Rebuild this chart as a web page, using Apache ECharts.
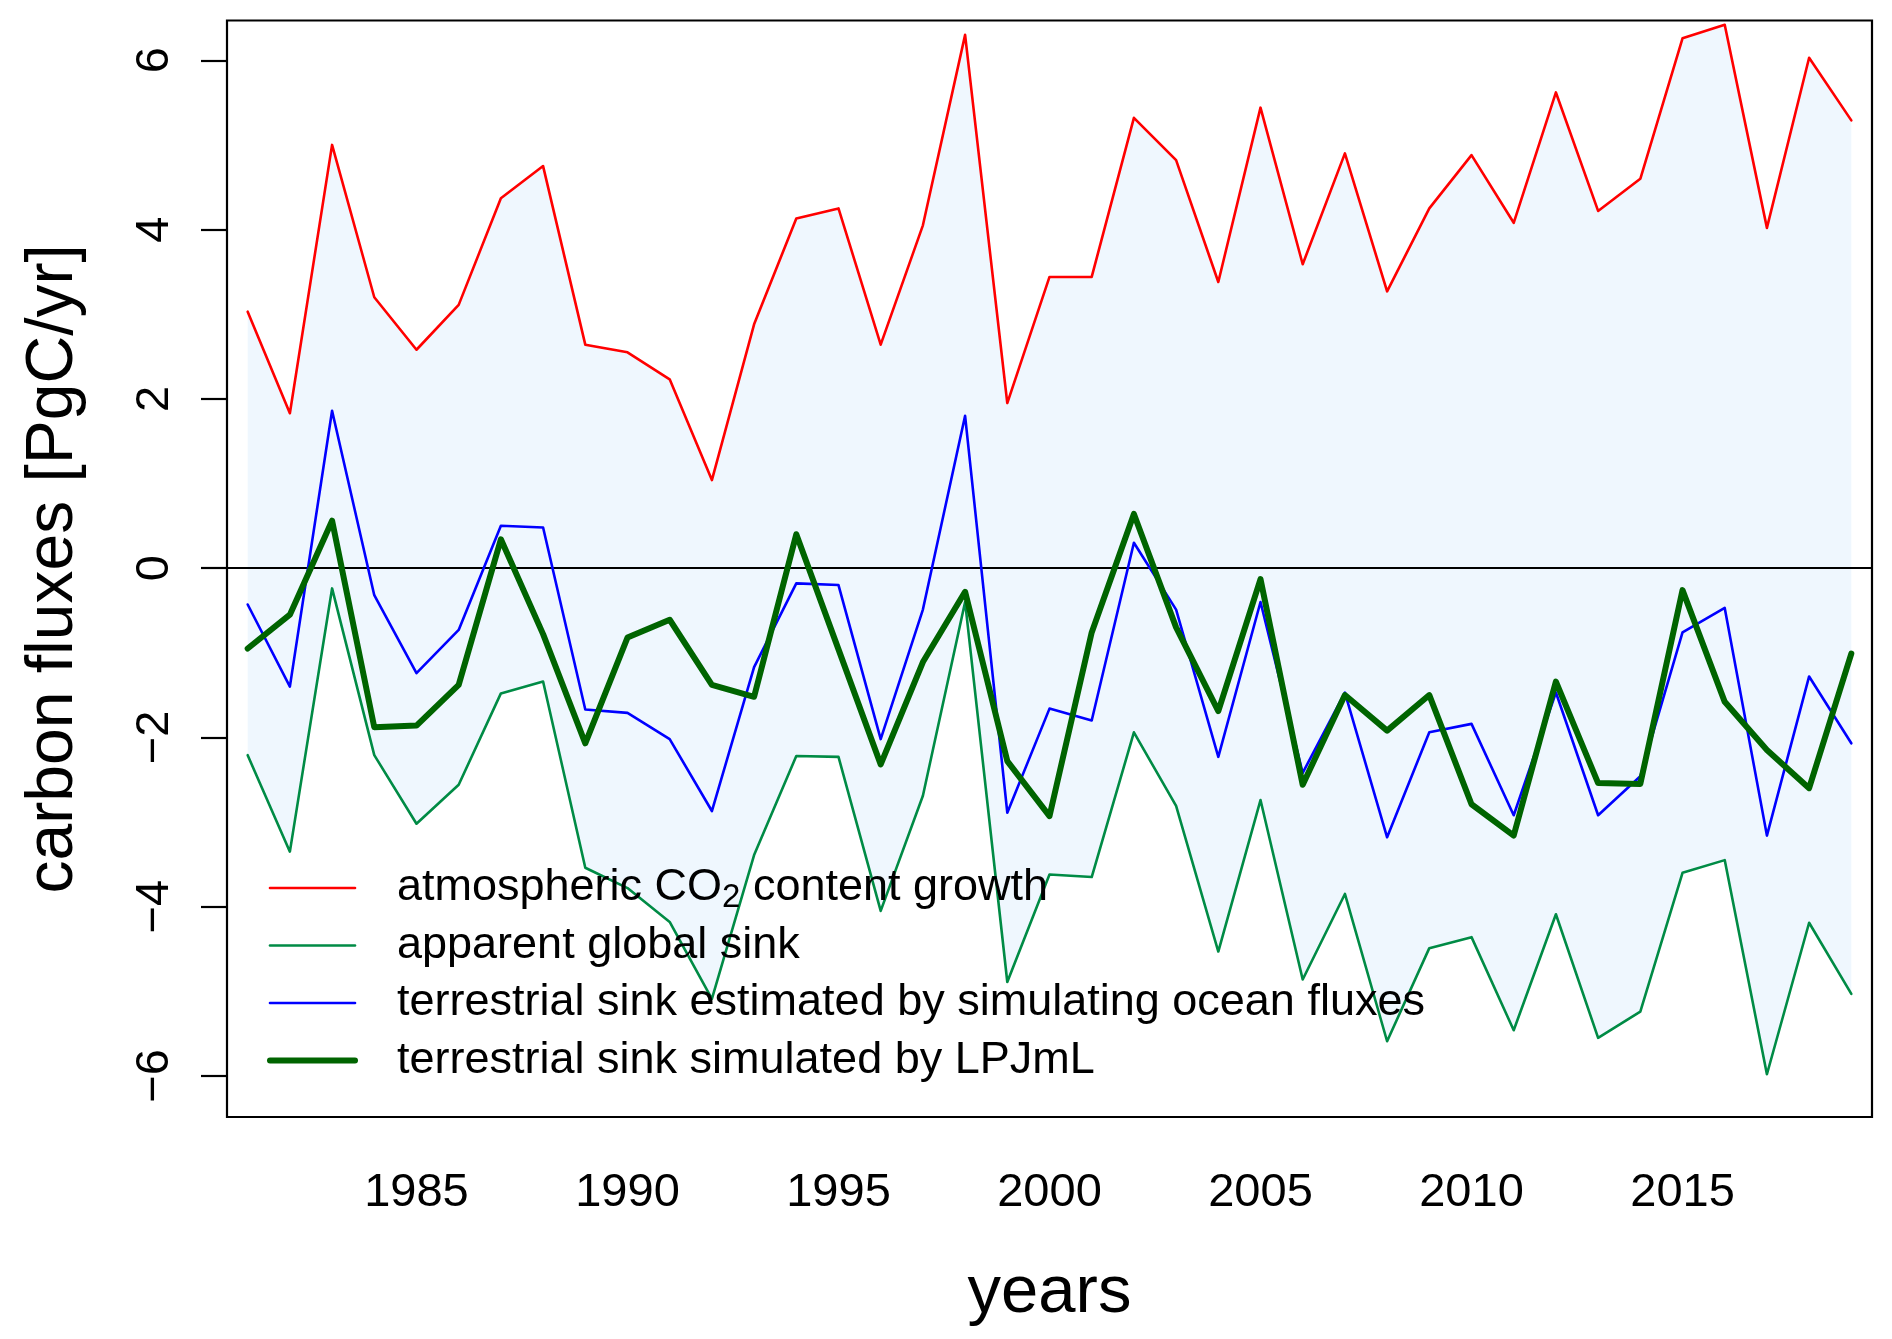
<!DOCTYPE html>
<html>
<head>
<meta charset="utf-8">
<script src="https://cdn.jsdelivr.net/npm/echarts@6/dist/echarts.min.js"></script>
<style>
  html, body { margin: 0; padding: 0; background: #fff; }
  #chart { width: 1892px; height: 1339px; }
</style>
</head>
<body>
<div id="chart"></div>
<script>
// years of the record
var years = [1981,1982,1983,1984,1985,1986,1987,1988,1989,1990,
  1991,1992,1993,1994,1995,1996,1997,1998,1999,2000,
  2001,2002,2003,2004,2005,2006,2007,2008,2009,2010,
  2011,2012,2013,2014,2015,2016,2017,2018,2019];

// atmospheric CO2 content growth
var atmGrowth = [3.03,1.83,5.00,3.20,2.58,3.11,4.37,4.75,2.64,2.55,
  2.23,1.04,2.88,4.13,4.25,2.64,4.05,6.30,1.95,3.44,
  3.44,5.32,4.82,3.38,5.44,3.59,4.90,3.27,4.25,4.88,
  4.08,5.62,4.22,4.60,6.26,6.42,4.02,6.03,5.29];

// apparent global sink
var apparentSink = [-2.21,-3.35,-0.24,-2.21,-3.02,-2.56,-1.48,-1.34,-3.54,-3.78,
  -4.18,-5.09,-3.39,-2.22,-2.23,-4.05,-2.69,-0.40,-4.89,-3.62,
  -3.65,-1.94,-2.81,-4.53,-2.74,-4.86,-3.85,-5.59,-4.49,-4.36,
  -5.46,-4.09,-5.55,-5.24,-3.60,-3.45,-5.98,-4.19,-5.03];

// terrestrial sink estimated by simulating ocean fluxes
var oceanBased = [-0.43,-1.40,1.86,-0.32,-1.24,-0.73,0.50,0.48,-1.67,-1.71,
  -2.02,-2.87,-1.17,-0.18,-0.20,-2.02,-0.49,1.80,-2.89,-1.66,
  -1.80,0.30,-0.49,-2.23,-0.40,-2.42,-1.47,-3.18,-1.94,-1.84,
  -2.92,-1.47,-2.92,-2.46,-0.76,-0.47,-3.16,-1.28,-2.07];

// terrestrial sink simulated by LPJmL
var lpjml = [-0.95,-0.55,0.56,-1.88,-1.86,-1.38,0.34,-0.78,-2.07,-0.82,
  -0.61,-1.38,-1.52,0.40,-0.96,-2.32,-1.11,-0.28,-2.28,-2.93,
  -0.76,0.64,-0.70,-1.69,-0.13,-2.56,-1.50,-1.92,-1.50,-2.79,
  -3.16,-1.34,-2.54,-2.55,-0.26,-1.58,-2.15,-2.60,-1.01];

var xTicks = [1985, 1990, 1995, 2000, 2005, 2010, 2015];
var yTicks = [-6, -4, -2, 0, 2, 4, 6];

var seriesNames = [
  'atmospheric CO2 content growth',
  'apparent global sink',
  'terrestrial sink estimated by simulating ocean fluxes',
  'terrestrial sink simulated by LPJmL'
];

var font = 'Liberation Sans, Arial, Helvetica, sans-serif';

function pairs(vals) {
  return years.map(function (y, i) { return [y, vals[i]]; });
}

var chart = echarts.init(document.getElementById('chart'), null, { renderer: 'canvas' });

var option = {
  animation: false,
  backgroundColor: '#ffffff',
  grid: {
    left: 227, right: 20, top: 20.5, bottom: 222,
    show: true, borderColor: '#000', borderWidth: 2.2,
    backgroundColor: 'transparent',
    outerBoundsMode: 'none'
  },
  xAxis: {
    type: 'value',
    min: 1980.51, max: 2019.49,
    name: 'years',
    nameLocation: 'middle',
    nameGap: 143,
    nameTextStyle: { fontFamily: font, fontSize: 67, color: '#000' },
    axisLine: { show: false },
    splitLine: { show: false },
    axisTick: {
      show: true, inside: false, length: 26, customValues: xTicks,
      lineStyle: { color: '#000', width: 2.2 }
    },
    axisLabel: {
      customValues: xTicks, margin: 53,
      fontFamily: font, fontSize: 47, color: '#000',
      formatter: function (v) { return String(v); }
    }
  },
  yAxis: {
    type: 'value',
    min: -6.485, max: 6.47,
    name: 'carbon fluxes [PgC/yr]',
    nameLocation: 'middle',
    nameRotate: 90,
    nameGap: 140,
    nameTextStyle: { fontFamily: font, fontSize: 66, color: '#000' },
    axisLine: { show: false },
    splitLine: { show: false },
    axisTick: {
      show: true, inside: false, length: 26, customValues: yTicks,
      lineStyle: { color: '#000', width: 2.2 }
    },
    axisLabel: {
      customValues: yTicks, rotate: 90, margin: 48,
      fontFamily: font, fontSize: 47, color: '#000',
      formatter: function (v) { return v < 0 ? '\u2212' + (-v) : String(v); }
    }
  },
  legend: {
    orient: 'vertical',
    left: 267, top: 862, padding: 0,
    itemWidth: 85, itemHeight: 14, itemGap: 5.5,
    data: seriesNames,
    selectedMode: false,
    itemStyle: { opacity: 0 },
    lineStyle: { width: 'inherit', cap: 'round' },
    formatter: function (name) {
      return name === seriesNames[0] ? 'atmospheric CO{sub|2} content growth' : name;
    },
    textStyle: {
      fontFamily: font, fontSize: 45, color: '#000', lineHeight: 52,
      padding: [0, 0, 0, 37],
      rich: {
        sub: { fontFamily: font, fontSize: 33, lineHeight: 33, verticalAlign: 'bottom', color: '#000' }
      }
    }
  },
  series: [
    {
      // shaded band between atmospheric growth and apparent sink
      type: 'custom',
      name: 'band',
      silent: true,
      z: 1,
      data: years.map(function (y, i) { return [y, atmGrowth[i], apparentSink[i]]; }),
      encode: { x: 0, y: [1, 2] },
      renderItem: function (params, api) {
        if (params.dataIndex !== 0) return null;
        var pts = [];
        for (var i = 0; i < years.length; i++) pts.push(api.coord([years[i], atmGrowth[i]]));
        for (var j = years.length - 1; j >= 0; j--) pts.push(api.coord([years[j], apparentSink[j]]));
        return {
          type: 'polygon',
          shape: { points: pts },
          style: { fill: '#eff7fe', stroke: null }
        };
      },
      markLine: {
        silent: true,
        symbol: ['none', 'none'],
        label: { show: false },
        lineStyle: { color: '#000', width: 2, type: 'solid' },
        data: [{ yAxis: 0 }],
        z: 2
      }
    },
    {
      type: 'line', name: seriesNames[0], data: pairs(atmGrowth),
      symbol: 'none', z: 3,
      lineStyle: { color: '#ff0000', width: 2.6, join: 'round', cap: 'round' },
      itemStyle: { color: '#ff0000' }
    },
    {
      type: 'line', name: seriesNames[1], data: pairs(apparentSink),
      symbol: 'none', z: 3,
      lineStyle: { color: '#008b45', width: 2.6, join: 'round', cap: 'round' },
      itemStyle: { color: '#008b45' }
    },
    {
      type: 'line', name: seriesNames[2], data: pairs(oceanBased),
      symbol: 'none', z: 3,
      lineStyle: { color: '#0000ff', width: 2.6, join: 'round', cap: 'round' },
      itemStyle: { color: '#0000ff' }
    },
    {
      type: 'line', name: seriesNames[3], data: pairs(lpjml),
      symbol: 'none', z: 4,
      lineStyle: { color: '#006400', width: 6, join: 'round', cap: 'round' },
      itemStyle: { color: '#006400' }
    }
  ]
};

chart.setOption(option);
</script>
</body>
</html>
